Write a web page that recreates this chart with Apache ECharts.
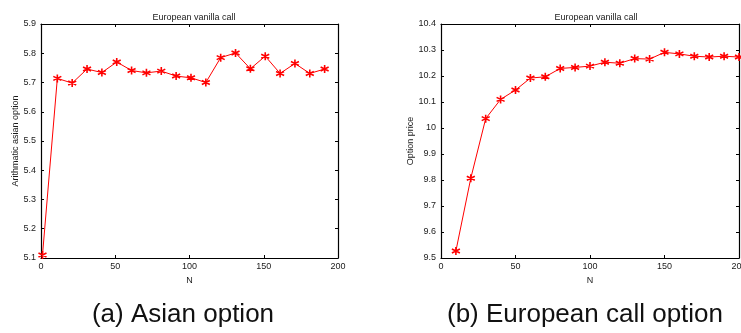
<!DOCTYPE html>
<html>
<head>
<meta charset="utf-8">
<script src="https://cdn.jsdelivr.net/npm/echarts@6/dist/echarts.min.js"></script>
<style>
  html, body { margin: 0; padding: 0; background: #fff; }
  #chart { width: 741px; height: 333px; }
</style>
</head>
<body>
<div id="chart"></div>
<script>
// Panel (a): arithmetic Asian option price against the number of steps N
const asianN = [1, 11, 21, 31, 41, 51, 61, 71, 81, 91, 101, 111, 121, 131, 141, 151, 161, 171, 181, 191];
const asianPrice = [5.110, 5.714, 5.698, 5.746, 5.734, 5.770, 5.741, 5.733, 5.739, 5.722, 5.716, 5.700, 5.785, 5.801, 5.747, 5.790, 5.731, 5.765, 5.731, 5.746];

// Panel (b): European vanilla call price against N
const euroN = [10, 20, 30, 40, 50, 60, 70, 80, 90, 100, 110, 120, 130, 140, 150, 160, 170, 180, 190, 200];
const euroPrice = [9.527, 9.807, 10.036, 10.110, 10.146, 10.192, 10.197, 10.229, 10.233, 10.238, 10.253, 10.249, 10.267, 10.265, 10.291, 10.285, 10.276, 10.273, 10.276, 10.273];

const xTicks = [0, 50, 100, 150, 200];
const panelTitle = 'European vanilla call';
const captions = ['(a) Asian option', '(b) European call option'];
const yNames = ['Arithmatic asian option', 'Option price'];

const FONT = '"Liberation Sans", Arial, Helvetica, sans-serif';
const INK = '#1a1a1a';
const RED = '#ff0000';
// MATLAB-style asterisk marker
const STAR = 'path://M0,-5L0,5M-4.33,-2.5L4.33,2.5M-4.33,2.5L4.33,-2.5M-1.5,0L1.5,0';

const fmt = v => String(parseFloat(v.toFixed(1)));

function xPair(grid, ticks) {
  const base = {
    gridIndex: grid, type: 'value',
    min: ticks[0], max: ticks[ticks.length - 1], interval: ticks[1] - ticks[0],
    splitLine: { show: false },
    axisLine: { show: true, onZero: false, lineStyle: { color: '#000', width: 1.2 } },
    axisTick: { show: true, inside: true, length: 3, lineStyle: { color: '#000' } }
  };
  return [
    Object.assign({}, base, {
      position: 'bottom',
      name: 'N', nameLocation: 'middle', nameGap: 17,
      nameTextStyle: { fontFamily: FONT, fontSize: 9, color: INK },
      axisLabel: { show: true, fontFamily: FONT, fontSize: 9, color: INK, margin: 4,
                   hideOverlap: false }
    }),
    Object.assign({}, base, { position: 'top', axisLabel: { show: false } })
  ];
}

function yPair(grid, min, max, name, gap) {
  const base = {
    gridIndex: grid, type: 'value', min: min, max: max, interval: 0.1,
    splitLine: { show: false },
    axisLine: { show: true, onZero: false, lineStyle: { color: '#000', width: 1.2 } },
    axisTick: { show: true, inside: true, length: 3, lineStyle: { color: '#000' } }
  };
  return [
    Object.assign({}, base, {
      position: 'left',
      name: name, nameLocation: 'middle', nameGap: gap,
      nameTextStyle: { fontFamily: FONT, fontSize: 9, color: INK },
      axisLabel: { show: true, fontFamily: FONT, fontSize: 9, color: INK, margin: 5, formatter: fmt }
    }),
    Object.assign({}, base, { position: 'right', axisLabel: { show: false } })
  ];
}

const lineSeries = (xi, yi, xs, ys) => ({
  type: 'line',
  xAxisIndex: xi, yAxisIndex: yi,
  data: xs.map((x, i) => [x, ys[i]]),
  lineStyle: { color: RED, width: 1 },
  symbol: STAR, symbolSize: 8,
  itemStyle: { color: RED, borderColor: RED, borderWidth: 1.6 },
  showSymbol: true, animation: false, silent: true
});

const chart = echarts.init(document.getElementById('chart'), null, { renderer: 'canvas' });
chart.setOption({
  backgroundColor: '#fff',
  animation: false,
  title: [
    { text: panelTitle, left: 189, top: 8, textAlign: 'center',
      textStyle: { fontFamily: FONT, fontSize: 9, fontWeight: 'normal', color: INK } },
    { text: panelTitle, left: 591, top: 8, textAlign: 'center',
      textStyle: { fontFamily: FONT, fontSize: 9, fontWeight: 'normal', color: INK } },
    { text: captions[0], left: 178, top: 297, textAlign: 'center',
      textStyle: { fontFamily: FONT, fontSize: 26, fontWeight: 'normal', color: '#111' } },
    { text: captions[1], left: 580, top: 297, textAlign: 'center',
      textStyle: { fontFamily: FONT, fontSize: 26, fontWeight: 'normal', color: '#111' } }
  ],
  grid: [
    { left: 41, top: 24, width: 297, height: 234, outerBoundsMode: 'none', containLabel: false },
    { left: 441, top: 24, width: 298, height: 234, outerBoundsMode: 'none', containLabel: false }
  ],
  xAxis: [].concat(xPair(0, xTicks), xPair(1, xTicks)),
  yAxis: [].concat(yPair(0, 5.1, 5.9, yNames[0], 20), yPair(1, 9.5, 10.4, yNames[1], 25)),
  series: [
    lineSeries(0, 0, asianN, asianPrice),
    lineSeries(2, 2, euroN, euroPrice)
  ]
});
</script>
</body>
</html>
